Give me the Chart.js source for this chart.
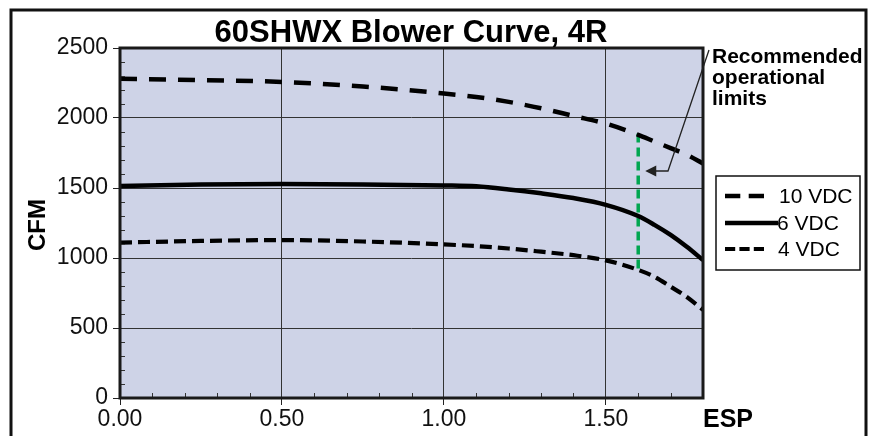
<!DOCTYPE html>
<html>
<head>
<meta charset="utf-8">
<script src="https://cdn.jsdelivr.net/npm/chart.js@4"></script>
<style>
  html, body { margin: 0; padding: 0; background: #fff; }
  #wrap { width: 874px; height: 436px; position: relative; }
</style>
</head>
<body>
<div id="wrap"><canvas id="c"></canvas></div>
<script>
// ---- data ----
const titleText = "60SHWX Blower Curve, 4R";
const xAxisLabel = "ESP";
const yAxisLabel = "CFM";
const espValues = [0, 0.25, 0.5, 0.75, 1.0, 1.1, 1.2, 1.3, 1.4, 1.5, 1.6, 1.65, 1.7, 1.75, 1.8];
const cfm10VDC = [2280, 2270, 2258, 2225, 2175, 2150, 2115, 2070, 2015, 1960, 1880, 1832, 1785, 1737, 1675];
const cfm6VDC  = [1515, 1525, 1528, 1525, 1518, 1512, 1490, 1462, 1428, 1380, 1300, 1237, 1165, 1080, 985];
const cfm4VDC  = [1110, 1122, 1128, 1118, 1097, 1085, 1068, 1045, 1020, 983, 915, 866, 795, 722, 630];
const seriesNames = ["10 VDC", "6 VDC", "4 VDC"];
const limitEsp = [1.6, 1.6];
const limitCfm = [1890, 900];
const annotationLines = ["Recommended", "operational", "limits"];

const FONT = "'Liberation Sans', Arial, sans-serif";
const toPts = (xs, ys) => xs.map((x, i) => ({ x: x, y: ys[i] }));
const isMajor = (v, step) => Math.abs(v / step - Math.round(v / step)) < 1e-6;

const datasets = [
  { label: seriesNames[0], data: toPts(espValues, cfm10VDC), borderColor: '#000', borderWidth: 4.5,
    borderDash: [17, 12], cubicInterpolationMode: 'monotone', pointRadius: 0, fill: false },
  { label: seriesNames[1], data: toPts(espValues, cfm6VDC), borderColor: '#000', borderWidth: 4.5,
    cubicInterpolationMode: 'monotone', pointRadius: 0, fill: false },
  { label: seriesNames[2], data: toPts(espValues, cfm4VDC), borderColor: '#000', borderWidth: 4.2,
    borderDash: [12, 6], cubicInterpolationMode: 'monotone', pointRadius: 0, fill: false },
  { label: 'limits', data: toPts(limitEsp, limitCfm), borderColor: '#00a650', borderWidth: 3.5,
    borderDash: [9, 5], pointRadius: 0, fill: false }
];

const decor = {
  id: 'decor',
  beforeDraw(chart) {
    const { ctx, chartArea: a } = chart;
    ctx.save();
    ctx.fillStyle = '#fff';
    ctx.fillRect(0, 0, chart.width, chart.height);
    ctx.fillStyle = '#ced3e7';
    ctx.fillRect(a.left, a.top, a.right - a.left, a.bottom - a.top);
    ctx.restore();
  },
  afterDatasetsDraw(chart) {
    const { ctx, chartArea: a, scales } = chart;
    const xs = scales.x, ys = scales.y;
    ctx.save();
    ctx.strokeStyle = '#333';
    ctx.lineWidth = 1;
    ctx.beginPath();
    for (let v = 100; v < 2500; v += 100) {
      if (isMajor(v, 500)) continue;
      const y = Math.round(ys.getPixelForValue(v)) + 0.5;
      ctx.moveTo(a.left, y); ctx.lineTo(a.left + 5, y);
    }
    for (let i = 1; i < 18; i++) {
      const v = i / 10;
      if (isMajor(v, 0.5)) continue;
      const x = Math.round(xs.getPixelForValue(v)) + 0.5;
      ctx.moveTo(x, a.bottom); ctx.lineTo(x, a.bottom - 5);
    }
    ctx.stroke();
    ctx.strokeStyle = '#1a1a1a';
    ctx.lineWidth = 3;
    ctx.strokeRect(a.left, a.top, a.right - a.left, a.bottom - a.top);
    ctx.restore();
  },
  afterDraw(chart) {
    const { ctx, chartArea: a, scales } = chart;
    const xs = scales.x;
    ctx.save();
    ctx.strokeStyle = '#111';
    ctx.lineWidth = 3;
    ctx.strokeRect(11, 10, 855, 500);
    ctx.fillStyle = '#000';
    ctx.font = 'bold 31px ' + FONT;
    ctx.textAlign = 'center';
    ctx.textBaseline = 'alphabetic';
    ctx.fillText(titleText, 411, 42);
    ctx.font = 'bold 25px ' + FONT;
    ctx.textAlign = 'left';
    ctx.fillText(xAxisLabel, a.right, 427);
    ctx.save();
    ctx.translate(45, 225);
    ctx.rotate(-Math.PI / 2);
    ctx.font = 'bold 24px ' + FONT;
    ctx.textAlign = 'center';
    ctx.fillText(yAxisLabel, 0, 0);
    ctx.restore();
    ctx.font = 'bold 21px ' + FONT;
    ctx.textAlign = 'left';
    annotationLines.forEach((t, i) => ctx.fillText(t, 712, 63 + i * 21));
    const lx = xs.getPixelForValue(limitEsp[0]);
    const ay = 171;
    ctx.strokeStyle = '#222';
    ctx.lineWidth = 1.3;
    ctx.beginPath();
    ctx.moveTo(709, 50);
    ctx.lineTo(668, ay);
    ctx.lineTo(654, ay);
    ctx.stroke();
    ctx.fillStyle = '#222';
    ctx.beginPath();
    ctx.moveTo(lx + 7, ay);
    ctx.lineTo(lx + 18, ay - 5.5);
    ctx.lineTo(lx + 18, ay + 5.5);
    ctx.closePath();
    ctx.fill();
    const lb = { x: 716, y: 176, w: 144, h: 94 };
    ctx.fillStyle = '#fff';
    ctx.fillRect(lb.x, lb.y, lb.w, lb.h);
    ctx.strokeStyle = '#111';
    ctx.lineWidth = 1.5;
    ctx.strokeRect(lb.x, lb.y, lb.w, lb.h);
    const rows = [196, 223, 249];
    const sampleEnd = [769, 778, 766];
    const textX = [779, 777, 778];
    ctx.font = '21px ' + FONT;
    ctx.textBaseline = 'middle';
    for (let i = 0; i < 3; i++) {
      const ds = chart.data.datasets[i];
      ctx.strokeStyle = ds.borderColor;
      ctx.lineWidth = ds.borderWidth;
      ctx.setLineDash(ds.borderDash ? [ds.borderDash[0] * (i === 0 ? 0.9 : 0.85), ds.borderDash[1] * 0.7] : []);
      ctx.beginPath();
      ctx.moveTo(725, rows[i]);
      ctx.lineTo(sampleEnd[i], rows[i]);
      ctx.stroke();
      ctx.setLineDash([]);
      ctx.fillStyle = '#000';
      ctx.fillText(ds.label, textX[i], rows[i] + 1);
    }
    ctx.restore();
  }
};

new Chart(document.getElementById('c'), {
  type: 'line',
  data: { datasets: datasets },
  options: {
    responsive: true,
    maintainAspectRatio: false,
    animation: false,
    events: [],
    layout: { padding: { left: 0, top: 48, right: 171, bottom: 0 } },
    plugins: { legend: { display: false }, title: { display: false }, tooltip: { enabled: false } },
    scales: {
      x: {
        type: 'linear', min: 0, max: 1.8,
        afterFit(s) { s.height = 38; },
        border: { display: false },
        grid: {
          drawTicks: true, tickLength: 7,
          color: (c) => (c.tick && isMajor(c.tick.value, 0.5) && c.tick.value > 0.01 && c.tick.value < 1.79) ? '#333' : 'rgba(0,0,0,0)',
          tickColor: (c) => (c.tick && isMajor(c.tick.value, 0.5) && c.tick.value < 1.79) ? '#222' : 'rgba(0,0,0,0)',
          lineWidth: 1
        },
        ticks: {
          stepSize: 0.1, autoSkip: false, maxRotation: 0, padding: 1,
          color: '#111', font: { family: FONT, size: 23 },
          callback: (v) => (isMajor(v, 0.5) && v < 1.79) ? Number(v).toFixed(2) : ''
        }
      },
      y: {
        type: 'linear', min: 0, max: 2500,
        afterFit(s) { s.width = 120; },
        border: { display: false },
        grid: {
          drawTicks: true, tickLength: 7,
          color: (c) => (c.tick && isMajor(c.tick.value, 500) && c.tick.value > 0 && c.tick.value < 2500) ? '#333' : 'rgba(0,0,0,0)',
          tickColor: (c) => (c.tick && isMajor(c.tick.value, 500)) ? '#222' : 'rgba(0,0,0,0)',
          lineWidth: 1
        },
        ticks: {
          stepSize: 100, autoSkip: false, padding: 5,
          color: '#111', font: { family: FONT, size: 23 },
          callback: (v) => isMajor(v, 500) ? String(v) : ''
        }
      }
    }
  },
  plugins: [decor]
});
</script>
</body>
</html>
